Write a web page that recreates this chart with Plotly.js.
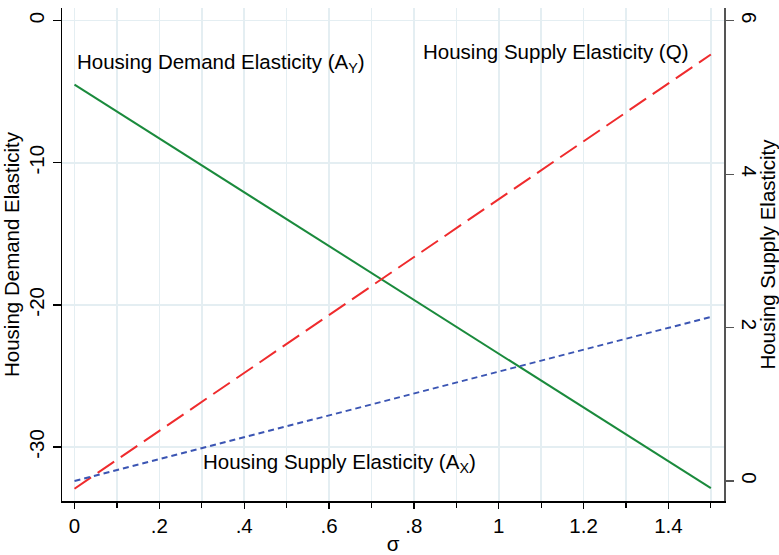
<!DOCTYPE html>
<html>
<head>
<meta charset="utf-8">
<script src="https://cdn.plot.ly/plotly-3.0.1.min.js"></script>
<style>html,body{margin:0;padding:0;background:#fff;}#chart{width:779px;height:555px;}</style>
</head>
<body>
<div id="chart"></div>
<script>
// Data
const sigma = [0, 1.5];
const demandAY = [-4.5, -32.9];      // Housing Demand Elasticity (A_Y), left axis
const supplyQ = [-0.1, 5.56];        // Housing Supply Elasticity (Q), right axis
const supplyAX = [0.0, 2.14];        // Housing Supply Elasticity (A_X), right axis
const xTickVals = [0, 0.2, 0.4, 0.6, 0.8, 1, 1.2, 1.4];
const xTickText = ["0", ".2", ".4", ".6", ".8", "1", "1.2", "1.4"];
const yLeftTicks = [0, -10, -20, -30];
const yRightTicks = [0, 2, 4, 6];
const labels = {
  demand: "Housing Demand Elasticity (A<sub>Y</sub>)",
  q: "Housing Supply Elasticity (Q)",
  ax: "Housing Supply Elasticity (A<sub>X</sub>)"
};

const FONT = "Liberation Sans, Arial, Helvetica, sans-serif";
const FS = 20.5;
const GRID = "#e4eef2";

const traces = [
  {x: sigma, y: demandAY, type: "scatter", mode: "lines", yaxis: "y",
   line: {color: "#1a8a3c", width: 2}, hoverinfo: "skip"},
  {x: sigma, y: supplyQ, type: "scatter", mode: "lines", yaxis: "y2",
   line: {color: "#ef2b2d", width: 2, dash: "20px,8px"}, hoverinfo: "skip"},
  {x: sigma, y: supplyAX, type: "scatter", mode: "lines", yaxis: "y2",
   line: {color: "#3b55b3", width: 2, dash: "6px,4px"}, hoverinfo: "skip"}
];

const layout = {
  width: 779, height: 555,
  margin: {l: 62, r: 55, t: 8, b: 54},
  paper_bgcolor: "#fff", plot_bgcolor: "#fff",
  showlegend: false,
  font: {family: FONT, size: FS, color: "#000"},
  xaxis: {
    range: [-0.0295, 1.531],
    tickmode: "array", tickvals: xTickVals, ticktext: xTickText,
    ticks: "outside", ticklen: 6, tickwidth: 1.3, tickcolor: "#000",
    showline: true, linecolor: "#000", linewidth: 1.5,
    showgrid: true, gridcolor: GRID, gridwidth: 1.6,
    zeroline: false,
    minor: {tickmode: "linear", tick0: 0, dtick: 0.1, ticks: "outside", ticklen: 5,
            tickcolor: "#000", showgrid: true, gridcolor: GRID, gridwidth: 1.6},
    tickfont: {size: FS},
    title: {text: "σ", font: {size: FS}, standoff: 4}
  },
  yaxis: {
    range: [-33.8, 0.89],
    tickmode: "array", tickvals: yLeftTicks, ticktext: yLeftTicks.map(String),
    tickangle: -90,
    ticks: "outside", ticklen: 8, tickwidth: 1.3, tickcolor: "#000",
    showline: true, linecolor: "#000", linewidth: 1.5,
    showgrid: true, gridcolor: GRID, gridwidth: 1.6,
    zeroline: false,
    tickfont: {size: FS},
    title: {text: "Housing Demand Elasticity", font: {size: FS}, standoff: 6}
  },
  yaxis2: {
    range: [-0.26, 6.166],
    overlaying: "y", side: "right",
    tickmode: "array", tickvals: yRightTicks, ticktext: yRightTicks.map(String),
    tickangle: 90,
    ticks: "outside", ticklen: 8, tickwidth: 1.3, tickcolor: "#555",
    showline: true, linecolor: "#555", linewidth: 1.5,
    showgrid: false, zeroline: false,
    tickfont: {size: FS},
    title: {text: "Housing Supply Elasticity", font: {size: FS}, standoff: 4}
  },
  annotations: [
    {x: 0, y: -3.0, xref: "x", yref: "y", text: labels.demand, showarrow: false,
     xanchor: "left", yanchor: "middle", font: {size: FS}},
    {x: 1.45, y: 5.60, xref: "x", yref: "y2", text: labels.q, showarrow: false,
     xanchor: "right", yanchor: "middle", font: {size: FS}},
    {x: 0.298, y: 0.24, xref: "x", yref: "y2", text: labels.ax, showarrow: false,
     xanchor: "left", yanchor: "middle", font: {size: FS}}
  ]
};

Plotly.newPlot("chart", traces, layout, {displayModeBar: false, staticPlot: true});
</script>
</body>
</html>
